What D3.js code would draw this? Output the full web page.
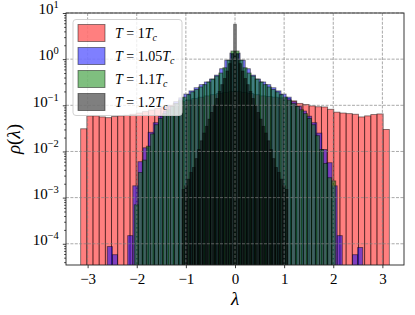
<!DOCTYPE html>
<html>
<head>
<meta charset="utf-8">
<script src="https://cdn.jsdelivr.net/npm/d3@7"></script>
<style>
  body { margin: 0; background: #fff; }
  svg { display: block; }
  text { font-family: "Liberation Serif", "Times New Roman", Times, serif; fill: #000; }
</style>
</head>
<body>
<svg id="chart" width="415" height="315"></svg>
<script>
// histogram data: bin range [lo, hi] and bin heights (rho)
var redRange = [-3.1416, 3.1416];
var redValues = [0.031, 0.059, 0.059, 0.056, 0.054, 0.057, 0.059, 0.061, 0.064, 0.068,
                 0.073, 0.079, 0.085, 0.092, 0.1, 0.11, 0.12, 0.13, 0.14, 0.15,
                 0.16, 0.17, 0.18, 0.19, 0.2, 0.2, 0.19, 0.18, 0.17, 0.16,
                 0.155, 0.15, 0.145, 0.14, 0.125, 0.11, 0.104, 0.097, 0.093, 0.092,
                 0.082, 0.071, 0.068, 0.066, 0.064, 0.056, 0.059, 0.063, 0.065, 0.030];

var blueRange = [-2.6, 2.6];
var blueValues = [8.7e-5, 5.8e-5, 0, 0, 1.5e-4, 1.8e-3, 6e-3, 0.012, 0.026, 0.042,
                  0.058, 0.075, 0.095, 0.12, 0.145, 0.175, 0.205, 0.24, 0.28, 0.32,
                  0.37, 0.45, 0.62, 0.95, 1.35, 1.35, 0.95, 0.62, 0.45, 0.37,
                  0.32, 0.28, 0.24, 0.205, 0.175, 0.15, 0.12, 0.095, 0.075, 0.058,
                  0.042, 0.025, 0.011, 5.7e-3, 1.8e-3, 1.5e-4, 0, 0, 5.8e-5, 8.3e-5];

var greenRange = [-2.05, 2.05];
var greenValues = [7e-4, 0.0035, 0.0065, 0.013, 0.024, 0.038, 0.052, 0.066, 0.08, 0.095,
                   0.11, 0.13, 0.15, 0.17, 0.195, 0.22, 0.25, 0.28, 0.32, 0.37,
                   0.43, 0.5, 0.65, 0.95, 1.5, 1.5, 0.95, 0.65, 0.5, 0.43,
                   0.37, 0.32, 0.28, 0.25, 0.22, 0.195, 0.17, 0.15, 0.13, 0.11,
                   0.095, 0.08, 0.066, 0.052, 0.038, 0.022, 0.011, 0.0055, 0.0027, 0.0023];

var blackRange = [-1.076, 1.076];
var blackValues = [0.0015, 0.0018, 0.0025, 0.0035, 0.0045, 0.007, 0.011, 0.017, 0.025, 0.035,
                   0.05, 0.07, 0.1, 0.14, 0.2, 0.28, 0.38, 0.55, 0.8, 1.3,
                   5.7,
                   1.3, 0.8, 0.55, 0.38, 0.28, 0.2, 0.14, 0.1, 0.07, 0.05,
                   0.035, 0.025, 0.017, 0.011, 0.007, 0.0045, 0.0035, 0.0025, 0.0018, 0.0015];

var tempLabels = ["1", "1.05", "1.1", "1.2"];
var xTicks = [-3, -2, -1, 0, 1, 2, 3];
var yTicks = [10, 1, 0.1, 0.01, 0.001, 0.0001];
var yTickExp = ["1", "0", "\u22121", "\u22122", "\u22123", "\u22124"];

var LEFT = 66, RIGHT = 404, TOP = 13, BOTTOM = 265;
var FONT = "Liberation Serif, Times New Roman, serif";

var svg = d3.select("#chart");

var x = d3.scaleLinear().domain([-3.44, 3.44]).range([LEFT, RIGHT]);
var y = d3.scaleLog().domain([Math.pow(10, -4.46), 10]).range([BOTTOM, TOP]);

var series = [
  {range: redRange, values: redValues, color: "#ff0000"},
  {range: blueRange, values: blueValues, color: "#0000ff"},
  {range: greenRange, values: greenValues, color: "#008000"},
  {range: blackRange, values: blackValues, color: "#000000"}
];

svg.append("clipPath").attr("id", "plotclip")
  .append("rect")
  .attr("x", LEFT).attr("y", TOP)
  .attr("width", RIGHT - LEFT).attr("height", BOTTOM - TOP);

var plot = svg.append("g").attr("clip-path", "url(#plotclip)");

series.forEach(function(s){
  var n = s.values.length;
  var w = (s.range[1] - s.range[0]) / n;
  var bins = s.values.map(function(v, i){
    return {x0: s.range[0] + i * w, x1: s.range[0] + (i + 1) * w, v: v};
  }).filter(function(d){ return d.v > 0; });

  plot.append("g").selectAll("rect").data(bins).enter().append("rect")
    .attr("x", function(d){ return x(d.x0); })
    .attr("width", function(d){ return x(d.x1) - x(d.x0); })
    .attr("y", function(d){ return y(d.v); })
    .attr("height", function(d){ return BOTTOM + 10 - y(d.v); })
    .attr("fill", s.color).attr("fill-opacity", 0.5)
    .attr("stroke", "#000").attr("stroke-opacity", 0.5)
    .attr("stroke-width", 0.9);
});

// grid (drawn above bars, like matplotlib)
var grid = svg.append("g")
  .attr("stroke", "#808080").attr("stroke-opacity", 0.85)
  .attr("stroke-width", 0.8).attr("stroke-dasharray", "3,1.4");
grid.selectAll(".gx").data(xTicks).enter().append("line")
  .attr("x1", function(d){ return x(d); }).attr("x2", function(d){ return x(d); })
  .attr("y1", TOP).attr("y2", BOTTOM);
grid.selectAll(".gy").data(yTicks).enter().append("line")
  .attr("x1", LEFT).attr("x2", RIGHT)
  .attr("y1", function(d){ return y(d); }).attr("y2", function(d){ return y(d); });

// axes
var xAxis = svg.append("g").attr("transform", "translate(0," + BOTTOM + ")")
  .call(d3.axisBottom(x).tickValues(xTicks).tickSize(3.2).tickPadding(5)
    .tickFormat(function(d){ return d < 0 ? "\u2212" + Math.abs(d) : d; }));
xAxis.attr("font-family", FONT);
xAxis.select(".domain").remove();
xAxis.selectAll("text").attr("font-size", 15);

var minorTicks = [];
for (var e = -5; e <= 0; e++)
  for (var m = 2; m <= 9; m++) {
    var v = m * Math.pow(10, e);
    if (v >= y.domain()[0] && v <= 10) minorTicks.push(v);
  }

var yMinor = svg.append("g").attr("transform", "translate(" + LEFT + ",0)")
  .call(d3.axisLeft(y).tickValues(minorTicks).tickSize(1.8).tickFormat(""));
yMinor.select(".domain").remove();

var yAxis = svg.append("g").attr("transform", "translate(" + LEFT + ",0)")
  .call(d3.axisLeft(y).tickValues(yTicks).tickSize(3.2).tickPadding(4).tickFormat(""));
yAxis.attr("font-family", FONT);
yAxis.select(".domain").remove();
yAxis.selectAll(".tick text").each(function(d, i){
  var t = d3.select(this).attr("font-size", 15).attr("dy", "0.05em");
  t.append("tspan").text("10");
  t.append("tspan").attr("font-size", 10.5).attr("dy", -6).text(yTickExp[i]);
});

svg.selectAll(".tick line").attr("stroke", "#000").attr("stroke-width", 0.75);

// frame
svg.append("rect")
  .attr("x", LEFT).attr("y", TOP)
  .attr("width", RIGHT - LEFT).attr("height", BOTTOM - TOP)
  .attr("fill", "none").attr("stroke", "#222").attr("stroke-width", 0.9);

// axis labels
var yl = svg.append("text")
  .attr("transform", "translate(20," + ((TOP + BOTTOM) / 2) + ") rotate(-90)")
  .attr("text-anchor", "middle").attr("font-size", 19);
yl.append("tspan").attr("font-style", "italic").text("\u03C1");
yl.append("tspan").text("(");
yl.append("tspan").attr("font-style", "italic").text("\u03BB");
yl.append("tspan").text(")");

svg.append("text")
  .attr("x", x(0)).attr("y", 305)
  .attr("text-anchor", "middle").attr("font-size", 19).attr("font-style", "italic")
  .text("\u03BB");

// legend
var legend = svg.append("g");
legend.append("rect")
  .attr("x", 73).attr("y", 19.5).attr("width", 109).attr("height", 96).attr("rx", 3)
  .attr("fill", "#fff").attr("fill-opacity", 0.8)
  .attr("stroke", "#cccccc").attr("stroke-width", 0.9);

var rows = legend.selectAll("g.row").data(series).enter().append("g")
  .attr("transform", function(d, i){ return "translate(0," + (33 + i * 23) + ")"; });
rows.append("rect")
  .attr("x", 78).attr("y", -8.5).attr("width", 27).attr("height", 17)
  .attr("fill", function(d){ return d.color; }).attr("fill-opacity", 0.5)
  .attr("stroke", "#000").attr("stroke-opacity", 0.5).attr("stroke-width", 0.9);
rows.append("text")
  .attr("x", 115).attr("y", 4.5).attr("font-size", 14)
  .each(function(d, i){
    var t = d3.select(this);
    t.append("tspan").attr("font-style", "italic").text("T");
    t.append("tspan").text(" = " + tempLabels[i]);
    t.append("tspan").attr("font-style", "italic").text("T");
    t.append("tspan").attr("font-style", "italic").attr("font-size", 10).attr("dy", 3).text("c");
  });
</script>
</body>
</html>
